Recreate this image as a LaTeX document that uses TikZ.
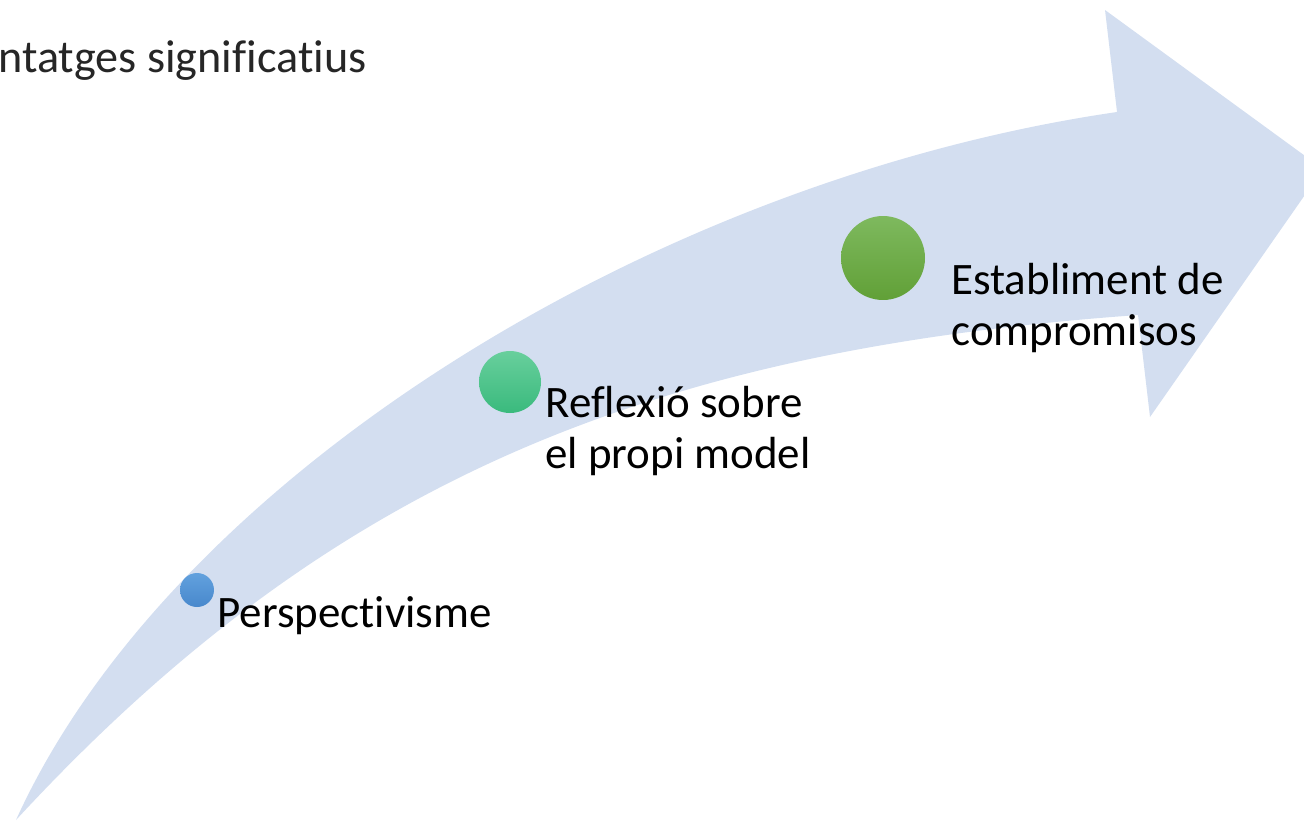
\documentclass[tikz,border=0pt]{standalone}
\usepackage{fontspec}
\setmainfont{Carlito}[Ligatures={NoCommon}]
\usepackage{tikz}
\usetikzlibrary{shapes}
\definecolor{bandblue}{RGB}{211,222,240}
\definecolor{dotblueT}{RGB}{98,161,222}
\definecolor{dotblueB}{RGB}{72,136,204}
\definecolor{dotmintT}{RGB}{104,207,156}
\definecolor{dotmintB}{RGB}{58,186,125}
\definecolor{dotleafT}{RGB}{126,185,94}
\definecolor{dotleafB}{RGB}{97,160,55}
\begin{document}
\begin{tikzpicture}[x=0.02cm,y=-0.02cm]
  \tikzstyle{StepLabel}=[anchor=base west,inner sep=0pt,align=left,
    font=\fontsize{25.6}{28.5}\selectfont]
  \tikzset{StepDot/.style = {shape=circle,inner sep=0pt,draw=none}}
  \clip (0,0) rectangle (1304,822);
  % title
  \node[StepLabel,text=black!85,font=\fontsize{26.3}{30}\selectfont] (title) at (-2,72) {ntatges significatius};
  % arrow
  \fill[bandblue] (16,820) .. controls (170,480) and (650,180) .. (1117,112)
    -- (1105,10) -- (1323,169) -- (1150,417) -- (1138,315)
    .. controls (650,350) and (330,480) .. (16,820) -- cycle;
  % steps
  \node[StepDot,minimum size=0.68cm,top color=dotblueT,bottom color=dotblueB] (p_dot) at (197,590) {};
  \node[StepDot,minimum size=1.24cm,top color=dotmintT,bottom color=dotmintB] (r_dot) at (510,382) {};
  \node[StepDot,minimum size=1.68cm,top color=dotleafT,bottom color=dotleafB] (e_dot) at (883,258) {};
  \node[StepLabel] (p_txt) at (217,627) {Perspectivisme};
  % multi-line labels: base is the last line
  \node[StepLabel] (r_txt) at (545,468) {Reflexió sobre\\el propi model};
  \node[StepLabel] (e_txt) at (951,345) {Establiment de\\compromisos};
\end{tikzpicture}
\end{document}
